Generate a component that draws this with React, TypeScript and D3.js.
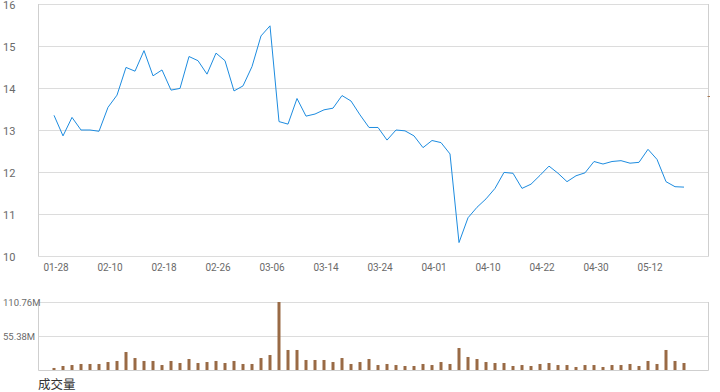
import React, { useEffect, useRef } from 'react';
import * as d3 from 'd3';

// closing prices, one per trading day
const prices = [
  13.35, 12.86, 13.3, 13.0, 13.0, 12.97, 13.54, 13.83, 14.49, 14.4,
  14.89, 14.29, 14.43, 13.95, 13.99, 14.75, 14.65, 14.33, 14.83, 14.65,
  13.93, 14.05, 14.51, 15.24, 15.48, 13.2, 13.14, 13.75, 13.33, 13.38,
  13.48, 13.52, 13.82, 13.69, 13.36, 13.06, 13.06, 12.76, 13.0, 12.98,
  12.86, 12.58, 12.75, 12.7, 12.43, 10.32, 10.91, 11.16, 11.36, 11.61,
  11.99, 11.97, 11.61, 11.71, 11.92, 12.14, 11.97, 11.77, 11.91, 11.98,
  12.25, 12.19, 12.25, 12.27, 12.21, 12.23, 12.54, 12.3, 11.77, 11.65,
  11.64,
];

// volume in millions
const volumes = [
  3.3, 6.5, 8.1, 9.8, 9.8, 9.8, 13, 14.7, 29.3, 19.5,
  14.7, 14.7, 8.1, 14.7, 11.4, 17.9, 11.4, 13, 14.7, 11.4,
  14.7, 9.8, 9.8, 19.5, 24.4, 110.76, 32.6, 32.6, 16.3, 16.3,
  16.3, 13, 19.5, 9.8, 13, 17.9, 8.1, 9.8, 8.1, 6.5,
  6.5, 9.8, 8.1, 13, 9.8, 35.8, 21.2, 17.9, 13, 11.4,
  11.4, 6.5, 8.1, 6.5, 9.8, 11.4, 8.1, 8.1, 4.9, 8.1,
  8.1, 4.9, 8.1, 8.1, 9.8, 6.5, 14.7, 9.8, 32.6, 14.7,
  11.4,
];

const dateLabels = ['01-28', '02-10', '02-18', '02-26', '03-06', '03-14', '03-24', '04-01', '04-10', '04-22', '04-30', '05-12'];
const priceTicks = [10, 11, 12, 13, 14, 15, 16];
const volumeTicks = [0, 55.38, 110.76];
const volumeMax = 110.76;

const W = 720, H = 392;
const FONT = 'Roboto, "Noto Sans", sans-serif';

export default function App() {
  const ref = useRef<SVGSVGElement>(null);

  useEffect(() => {
    const svg = d3.select(ref.current);
    svg.selectAll('*').remove();

    const left = 38.5, right = 708.5;
    const x = d3.scaleLinear().domain([0, prices.length - 1]).range([54, 684]);
    const y = d3.scaleLinear().domain([10, 16]).range([256, 4]);
    const yv = d3.scaleLinear().domain([0, volumeMax]).range([370, 302]);

    // price panel grid
    const g = svg.append('g');
    g.selectAll('line.grid').data(priceTicks).enter().append('line')
      .attr('x1', left).attr('x2', right)
      .attr('y1', d => Math.round(y(d)) + 0.5).attr('y2', d => Math.round(y(d)) + 0.5)
      .attr('stroke', '#dcdcdc').attr('stroke-width', 1);
    g.append('line').attr('x1', left).attr('x2', left).attr('y1', y(16)).attr('y2', y(10) + 0.5)
      .attr('stroke', '#cfcfcf');
    g.append('line').attr('x1', right).attr('x2', right).attr('y1', y(16)).attr('y2', y(10) + 0.5)
      .attr('stroke', '#cfcfcf');
    g.append('line').attr('x1', right - 1).attr('x2', right + 1.5).attr('y1', 96.5).attr('y2', 96.5)
      .attr('stroke', '#a87a55');

    g.selectAll('text.py').data(priceTicks).enter().append('text')
      .attr('x', 3).attr('y', d => y(d) + 4.5)
      .attr('font-family', FONT).attr('font-size', 11).attr('fill', '#6a6a6a')
      .text(d => d);

    g.selectAll('text.px').data(dateLabels).enter().append('text')
      .attr('x', (d, i) => x(i * 6) + 2).attr('y', 271)
      .attr('text-anchor', 'middle')
      .attr('font-family', FONT).attr('font-size', 10).attr('fill', '#6a6a6a')
      .text(d => d);

    const line = d3.line<number>().x((d, i) => x(i)).y(d => y(d));
    g.append('path').datum(prices).attr('d', line)
      .attr('fill', 'none').attr('stroke', '#1d8ce0').attr('stroke-width', 1);

    // volume panel
    const v = svg.append('g');
    v.selectAll('line.vgrid').data(volumeTicks).enter().append('line')
      .attr('x1', left).attr('x2', right)
      .attr('y1', d => Math.round(yv(d)) + 0.5).attr('y2', d => Math.round(yv(d)) + 0.5)
      .attr('stroke', d => d === 0 ? '#cfcfcf' : '#dcdcdc');
    v.append('line').attr('x1', left).attr('x2', left).attr('y1', yv(volumeMax)).attr('y2', yv(0) + 0.5)
      .attr('stroke', '#cfcfcf');
    v.append('line').attr('x1', right).attr('x2', right).attr('y1', yv(volumeMax)).attr('y2', yv(0) + 0.5)
      .attr('stroke', '#cfcfcf');

    v.selectAll('rect').data(volumes).enter().append('rect')
      .attr('x', (d, i) => x(i) - 1.5).attr('width', 3)
      .attr('y', d => yv(d)).attr('height', d => yv(0) - yv(d))
      .attr('fill', '#996a45');

    v.selectAll('text.vy').data(volumeTicks.filter(d => d > 0)).enter().append('text')
      .attr('x', 3).attr('y', d => yv(d) + 4)
      .attr('font-family', FONT).attr('font-size', 9.5).attr('fill', '#6a6a6a')
      .text(d => d.toFixed(2) + 'M');

    svg.append('text').attr('x', 38).attr('y', 389)
      .attr('font-family', '"Noto Sans CJK SC", sans-serif').attr('font-size', 12.5).attr('fill', '#333')
      .text('成交量');
  }, []);

  return (
    <svg ref={ref} width={W} height={H}
      style={{ position: 'absolute', left: 0, top: 0, background: '#fff' }} />
  );
}
